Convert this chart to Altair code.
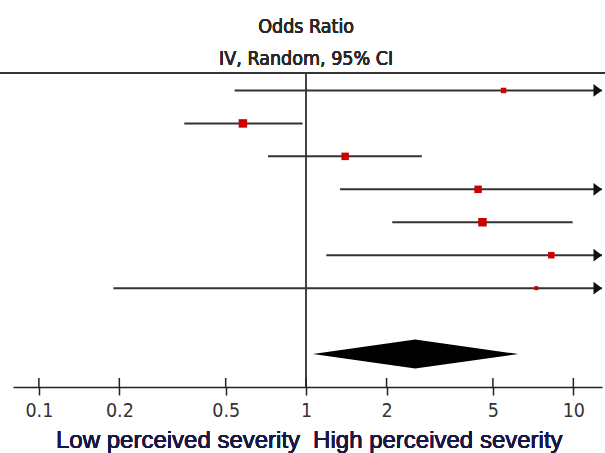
import altair as alt
import pandas as pd

# ---- data ----
rows = [1, 2, 3, 4, 5, 6, 7]
odds_ratio = [5.48, 0.58, 1.40, 4.40, 4.57, 8.27, 7.27]
ci_lower = [0.54, 0.35, 0.72, 1.34, 2.10, 1.19, 0.19]
ci_upper = [55.6, 0.97, 2.71, 14.4, 9.94, 57.5, 278.0]
weights = [8.7, 20.9, 16.3, 16.3, 20.9, 12.2, 4.7]

pooled_row = 9
pooled_or = 2.56
pooled_lower = 1.06
pooled_upper = 6.22

tick_values = [0.1, 0.2, 0.5, 1, 2, 5, 10]
x_min, x_max = 0.08, 12.8
header_lines = ["Odds Ratio", "IV, Random, 95% CI"]
favours = ["Low perceived severity", "High perceived severity"]

# ---- layout ----
W, H = 589, 314
NARROW = "Liberation Sans Narrow, Arial Narrow, DejaVu Sans Condensed, sans-serif"
REGULAR = "Liberation Sans, Arial, sans-serif"
half_h = 0.44  # diamond half height in row units

studies = pd.DataFrame({
    "row": rows,
    "odds_ratio": odds_ratio,
    "ci_lower": ci_lower,
    "ci_upper": ci_upper,
    "weight": weights,
})
studies["x_end"] = studies["ci_upper"].clip(upper=x_max)
studies["arrow"] = studies["ci_upper"] > x_max

diamond = pd.DataFrame({
    "x": [pooled_lower, pooled_or, pooled_upper],
    "y": [pooled_row, pooled_row - half_h, pooled_row],
    "y2": [pooled_row, pooled_row + half_h, pooled_row],
})
ticks = pd.DataFrame({"tick": tick_values})

xs = alt.Scale(type="log", domain=[x_min, x_max], nice=False)
ys = alt.Scale(domain=[0.47, 10], reverse=True, nice=False, zero=False)

x_axis = alt.Axis(
    values=tick_values, format="~g", title=None, grid=False,
    domainColor="#222", domainWidth=1.5, tickColor="#222", tickWidth=1.5,
    tickSize=8, labelFont=NARROW, labelFontSize=19.5, labelColor="#333",
    labelPadding=6, labelFlush=False, labelOverlap=False,
)

top_line = alt.Chart(studies).mark_rule(color="#333", strokeWidth=2).encode(
    x=alt.value(-13), x2=alt.value(W + 3), y=alt.value(0)
)

null_line = alt.Chart(studies).mark_rule(color="#444", strokeWidth=1.5).encode(
    x=alt.X(datum=1, type="quantitative", scale=xs, axis=x_axis),
    y=alt.value(0), y2=alt.value(H),
)

ci = alt.Chart(studies).mark_rule(color="#333", strokeWidth=2).encode(
    x=alt.X("ci_lower:Q", scale=xs, axis=x_axis),
    x2="x_end:Q",
    y=alt.Y("row:Q", scale=ys, axis=None),
)

squares = alt.Chart(studies).mark_point(
    shape="square", filled=True, color="#cc0000", opacity=1
).encode(
    x=alt.X("odds_ratio:Q", scale=xs),
    y=alt.Y("row:Q", scale=ys),
    size=alt.Size("weight:Q", scale=alt.Scale(domain=[0, 100], range=[0, 344]), legend=None),
)

arrows = alt.Chart(studies).transform_filter(
    alt.datum.arrow
).mark_point(
    shape="M-2,-1.5L0,0L-2,1.5Z", filled=True, color="#111", opacity=1, size=72
).encode(
    x=alt.X("x_end:Q", scale=xs),
    y=alt.Y("row:Q", scale=ys),
)

diamond_mark = alt.Chart(diamond).mark_area(color="black", orient="vertical").encode(
    x=alt.X("x:Q", scale=xs),
    y=alt.Y("y:Q", scale=ys),
    y2="y2:Q",
)

tick_up = alt.Chart(ticks).mark_rule(color="#222", strokeWidth=1.5).encode(
    x=alt.X("tick:Q", scale=xs),
    y=alt.value(H - 9), y2=alt.value(H),
)

head1 = alt.Chart(ticks).mark_text(
    font=NARROW, fontSize=19.5, color="#2a2a2a", baseline="alphabetic", align="center"
).encode(x=alt.X(datum=1, type="quantitative", scale=xs), y=alt.value(-40), text=alt.value(header_lines[0]))
head2 = alt.Chart(ticks).mark_text(
    font=NARROW, fontSize=19.5, color="#2a2a2a", baseline="alphabetic", align="center"
).encode(x=alt.X(datum=1, type="quantitative", scale=xs), y=alt.value(-8), text=alt.value(header_lines[1]))

fav_left = alt.Chart(ticks).mark_text(
    font=REGULAR, fontSize=24, color="#181845", baseline="alphabetic", align="right", dx=-6
).encode(x=alt.X(datum=1, type="quantitative", scale=xs), y=alt.value(375), text=alt.value(favours[0]))
fav_right = alt.Chart(ticks).mark_text(
    font=REGULAR, fontSize=24, color="#181845", baseline="alphabetic", align="left", dx=7
).encode(x=alt.X(datum=1, type="quantitative", scale=xs), y=alt.value(375), text=alt.value(favours[1]))

chart = alt.layer(
    top_line, null_line, ci, squares, arrows, diamond_mark, tick_up,
    head1, head2, fav_left, fav_right,
).properties(
    width=W, height=H,
    autosize=alt.AutoSizeParams(type="none"),
    padding={"left": 13, "top": 73, "right": 3, "bottom": 66},
    background="white",
).configure_view(stroke=None)

chart.save("out.html", embed_options={"renderer": "svg", "actions": False})
